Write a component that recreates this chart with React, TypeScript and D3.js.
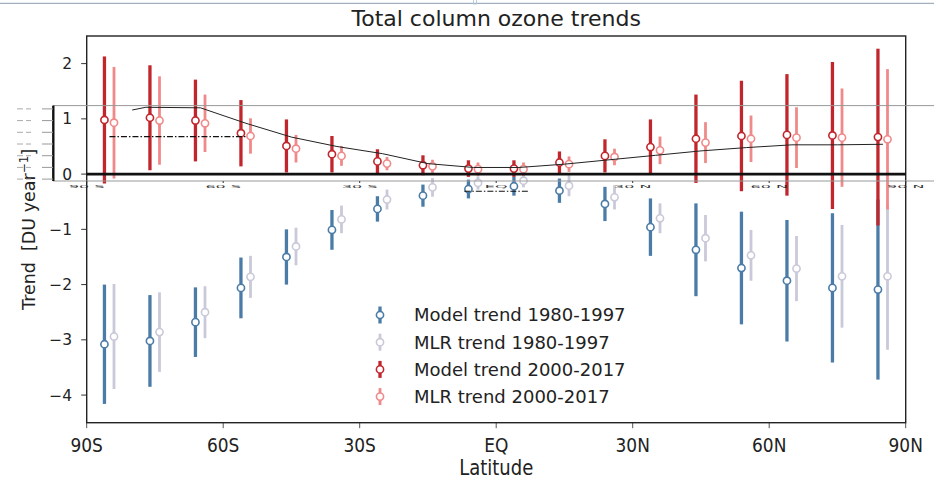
import * as d3 from 'd3';

// latitude bin centres (degrees, negative = south)
const latitudes = [-85, -75, -65, -55, -45, -35, -25, -15, -5, 5, 15, 25, 35, 45, 55, 65, 75, 85];

// trends [DU / year] and half-widths of the error bars
const modelEarly = [-3.08, -3.02, -2.68, -2.06, -1.5, -1.01, -0.63, -0.39, -0.27, -0.22, -0.3, -0.54, -0.96, -1.37, -1.7, -1.93, -2.06, -2.09];
const modelEarlyErr = [1.08, 0.83, 0.63, 0.55, 0.5, 0.36, 0.23, 0.2, 0.17, 0.17, 0.22, 0.31, 0.52, 0.84, 1.02, 1.1, 1.35, 1.63];
const mlrEarly = [-2.94, -2.86, -2.5, -1.86, -1.31, -0.82, -0.46, -0.24, -0.16, -0.12, -0.21, -0.42, -0.8, -1.16, -1.47, -1.71, -1.85, -1.85];
const mlrEarlyErr = [0.95, 0.72, 0.47, 0.38, 0.34, 0.25, 0.18, 0.17, 0.12, 0.12, 0.19, 0.22, 0.27, 0.42, 0.46, 0.59, 0.93, 1.33];
const modelLate = [0.98, 1.02, 0.97, 0.74, 0.51, 0.36, 0.23, 0.16, 0.1, 0.1, 0.21, 0.33, 0.49, 0.64, 0.69, 0.71, 0.7, 0.67];
const modelLateErr = [1.15, 0.95, 0.74, 0.6, 0.48, 0.33, 0.22, 0.18, 0.15, 0.15, 0.2, 0.3, 0.5, 0.8, 1.0, 1.1, 1.33, 1.6];
const mlrLate = [0.93, 0.97, 0.92, 0.69, 0.46, 0.33, 0.19, 0.14, 0.09, 0.09, 0.18, 0.31, 0.43, 0.57, 0.64, 0.66, 0.66, 0.63];
const mlrLateErr = [1.01, 0.8, 0.52, 0.32, 0.25, 0.18, 0.12, 0.12, 0.12, 0.12, 0.14, 0.15, 0.25, 0.37, 0.42, 0.55, 0.89, 1.27];

// thin black line left over in the figure
const curveLat = [-80, -77, -65, -55, -45, -35, -25, -15, -5, 5, 15, 25, 35, 45, 55, 65, 75, 85];
const curveVal = [1.16, 1.21, 1.2, 0.92, 0.67, 0.5, 0.37, 0.19, 0.12, 0.12, 0.18, 0.26, 0.34, 0.42, 0.48, 0.53, 0.53, 0.54];

// dash-dot segments: [lat start, lat end, value]
const dashSegments = [[-85, -55, 0.68], [-7, 7, -0.31]];

const xTickValues = [-90, -60, -30, 0, 30, 60, 90];
const xTickLabels = ['90S', '60S', '30S', 'EQ', '30N', '60N', '90N'];
const ghostLabels = ['90 S', '60 S', '30 S', 'EQ', '30 N', '60 N', '90 N'];
const yTickValues = [-4, -3, -2, -1, 0, 1, 2];

const legendLabels = ['Model trend 1980-1997', 'MLR trend 1980-1997', 'Model trend 2000-2017', 'MLR trend 2000-2017'];
const seriesColors = ['#4b7ca7', '#c9c9d9', '#c1262c', '#f08a8a'];

const W = 934;
const H = 484;
const FONT = '"DejaVu Sans", sans-serif';

export default function App() {
  const x = d3.scaleLinear().domain([-90, 90]).range([86.7, 905.7]);
  const y = d3.scaleLinear().domain([-4.5, 2.5]).range([422.7, 36]);
  const [x0, x1] = x.range();
  const [y0, y1] = y.range();

  const series = [
    { vals: modelEarly, errs: modelEarlyErr, off: -1.1, sw: 3.3 },
    { vals: mlrEarly, errs: mlrEarlyErr, off: 1.0, sw: 2.8 },
    { vals: modelLate, errs: modelLateErr, off: -1.1, sw: 3.3 },
    { vals: mlrLate, errs: mlrLateErr, off: 1.0, sw: 2.8 },
  ];

  const curve = d3.line<number>()
    .x((_, i) => x(curveLat[i]))
    .y((d) => y(d));

  // overlay band (a pasted-in strip from another panel)
  const bandTop = y(1.24);
  const bandBot = y(-0.125);
  const bandTicks = d3.range(7).map((i) => bandTop + 3.3 + i * 11.7);

  return (
    <svg width={W} height={H} style={{ position: 'absolute', left: 0, top: 0, fontFamily: FONT }}>
      <rect width={W} height={H} fill="#fff" />
      {/* top border artifact */}
      <line x1={0} x2={W} y1={3.3} y2={3.3} stroke="#8a9cb0" strokeWidth={1} />
      <rect x={473.5} y={-1} width={3} height={5} fill="none" stroke="#a9c4d8" strokeWidth={0.8} />

      <text x={(x0 + x1) / 2} y={26} textAnchor="middle" fontSize={22} fill="#222">Total column ozone trends</text>

      {/* y ticks */}
      {yTickValues.map((v) => (
        <g key={v}>
          <line x1={x0 - 5.5} x2={x0} y1={y(v)} y2={y(v)} stroke="#333" strokeWidth={1} />
          <text x={72} y={y(v)} dy="0.36em" textAnchor="end" fontSize={15.5} fill="#222">
            {v < 0 ? '\u2212' + Math.abs(v) : String(v)}
          </text>
        </g>
      ))}

      {/* x ticks */}
      {xTickValues.map((v, i) => (
        <g key={v}>
          <line x1={x(v)} x2={x(v)} y1={y0} y2={y0 + 5.5} stroke="#555" strokeWidth={1} />
          <text transform={`translate(${x(v)},451.7) scale(1,1.17)`} textAnchor="middle" fontSize={17} fill="#222">
            {xTickLabels[i]}
          </text>
        </g>
      ))}
      <text transform={`translate(${(x0 + x1) / 2},475) scale(1,1.15)`} textAnchor="middle" fontSize={18} fill="#222">Latitude</text>

      <text transform={`translate(35,${(y0 + y1) / 2}) rotate(-90)`} textAnchor="middle" fontSize={17.5} fill="#222">
        {'Trend\u00a0\u00a0[DU year'}<tspan fontSize={12} dy={-7}>{'\u22121'}</tspan><tspan dy={7}>]</tspan>
      </text>

      {/* error bars */}
      {series.map((s, si) => (
        <g key={si}>
          {latitudes.map((lat, i) => (
            <line key={i} x1={x(lat + s.off)} x2={x(lat + s.off)}
              y1={y(s.vals[i] - s.errs[i])} y2={y(s.vals[i] + s.errs[i])}
              stroke={seriesColors[si]} strokeWidth={s.sw} />
          ))}
          {latitudes.map((lat, i) => (
            <circle key={'c' + i} cx={x(lat + s.off)} cy={y(s.vals[i])} r={3.6}
              fill="#fff" stroke={seriesColors[si]} strokeWidth={1.6} />
          ))}
        </g>
      ))}

      {/* frame */}
      <rect x={x0} y={y1} width={x1 - x0} height={y0 - y1} fill="none" stroke="#222" strokeWidth={1.4} />
      <line x1={x0} x2={x1} y1={y(0)} y2={y(0)} stroke="#111" strokeWidth={2.7} />

      {/* leftover overlay marks */}
      <path d={curve(curveVal) || ''} fill="none" stroke="#222" strokeWidth={1} />
      {dashSegments.map((d, i) => (
        <line key={i} x1={x(d[0])} x2={x(d[1])} y1={y(d[2])} y2={y(d[2])}
          stroke="#111" strokeWidth={1.2} strokeDasharray="6 2 1.5 2" />
      ))}
      <line x1={53} x2={W} y1={bandTop} y2={bandTop} stroke="#999" strokeWidth={1} />
      <line x1={53} x2={W} y1={bandBot} y2={bandBot} stroke="#999" strokeWidth={1} />
      <line x1={53.3} x2={53.3} y1={bandTop} y2={bandBot} stroke="#111" strokeWidth={2.4} />
      {bandTicks.map((ty, i) => (
        <g key={i}>
          <line x1={42} x2={53} y1={ty} y2={ty} stroke="#999" strokeWidth={1} />
          <line x1={17} x2={23} y1={ty} y2={ty} stroke="#aaa" strokeWidth={1} />
          <line x1={26} x2={31} y1={ty} y2={ty} stroke="#aaa" strokeWidth={1} />
        </g>
      ))}
      {xTickValues.map((v, i) => (
        <g key={'g' + v}>
          <line x1={x(v)} x2={x(v)} y1={bandBot} y2={bandBot + 2} stroke="#333" strokeWidth={1} />
          <text transform={`translate(${x(v)},${bandBot + 6.5}) scale(1,0.25)`} textAnchor="middle" fontSize={16} fill="#333">
            {ghostLabels[i]}
          </text>
        </g>
      ))}

      {/* legend */}
      {legendLabels.map((label, i) => {
        const ly = 315 + i * 27.2;
        return (
          <g key={label}>
            <line x1={380} x2={380} y1={ly - 8.5} y2={ly + 8.5} stroke={seriesColors[i]} strokeWidth={i % 2 ? 2.8 : 3.3} />
            <circle cx={380} cy={ly} r={3.6} fill="#fff" stroke={seriesColors[i]} strokeWidth={1.6} />
            <text x={414} y={ly} dy="0.36em" fontSize={18} fill="#222">{label}</text>
          </g>
        );
      })}
    </svg>
  );
}
